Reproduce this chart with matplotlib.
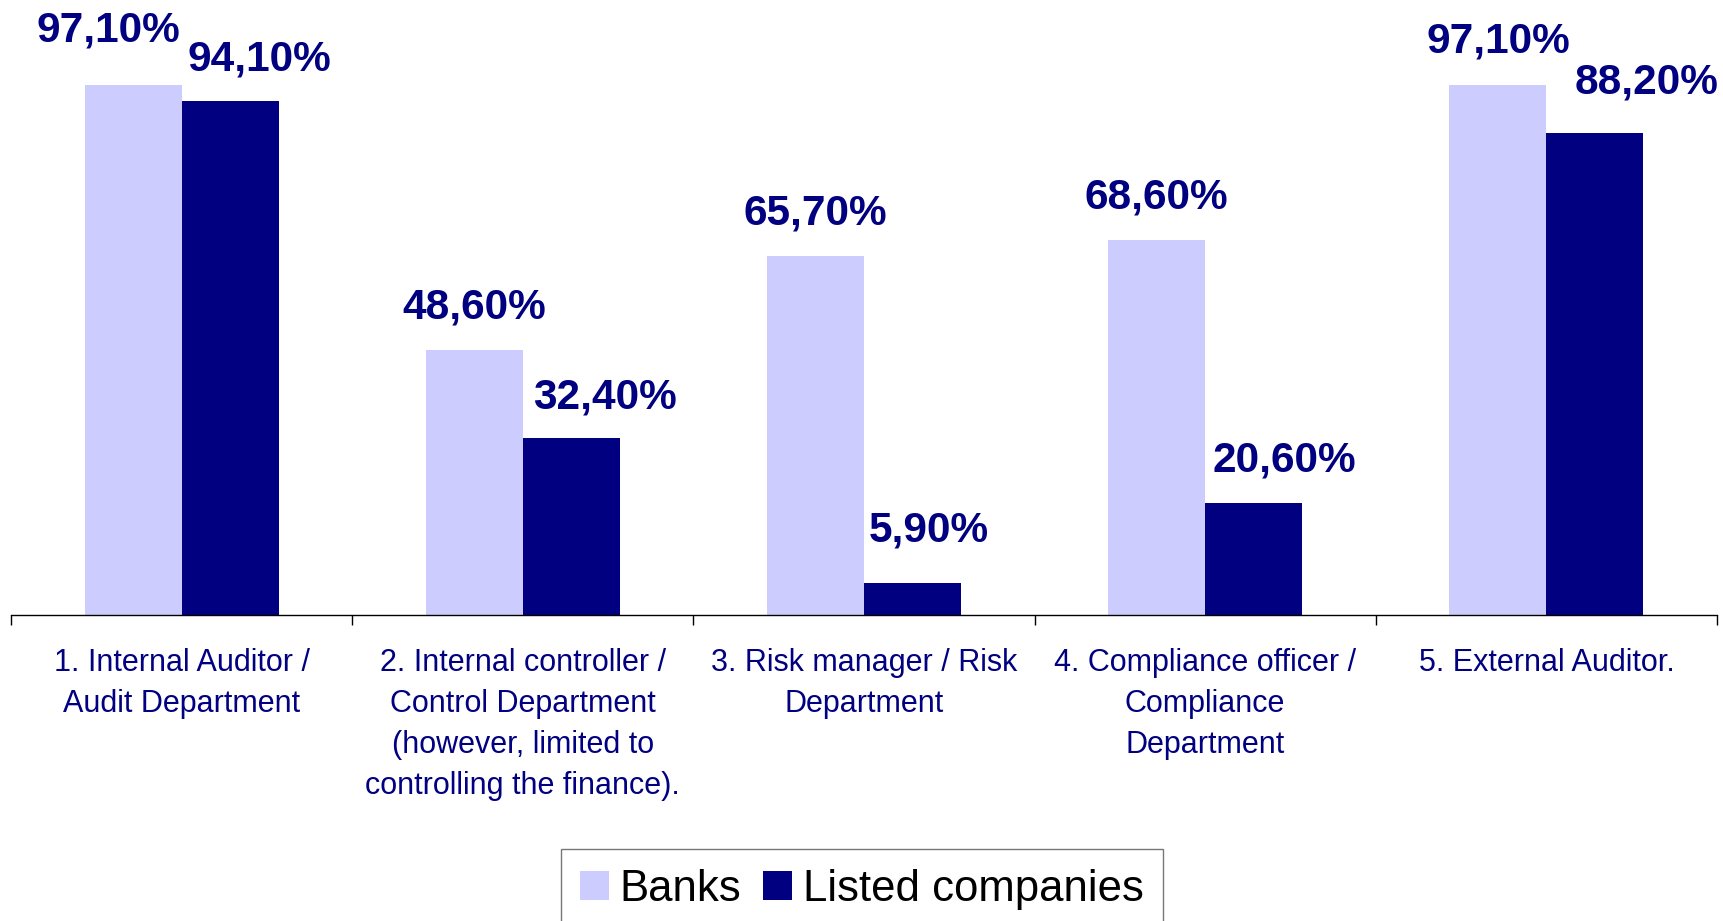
import matplotlib
matplotlib.use("Agg")
import matplotlib.pyplot as plt
from matplotlib.patches import Patch

plt.rcParams['font.family'] = ['Liberation Sans', 'DejaVu Sans']

# datos
categorias = ['1. Internal Auditor /\nAudit Department',
              '2. Internal controller /\nControl Department\n(however, limited to\ncontrolling the finance).',
              '3. Risk manager / Risk\nDepartment',
              '4. Compliance officer /\nCompliance\nDepartment',
              '5. External Auditor.']
bancos = [97.1, 48.6, 65.7, 68.6, 97.1]
cotizadas = [94.1, 32.4, 5.9, 20.6, 88.2]
series = ['Banks', 'Listed companies']

# colores
claro = '#CCCCFF'
oscuro = '#000080'

# pequenos ajustes de la posicion de las etiquetas (pixeles)
ajuste_claro = [(-25, 43), (0, 31), (0, 32), (0, 32), (0, 32)]
ajuste_oscuro = [(29, 30), (34, 30), (16, 41), (31, 31), (52, 40)]

fig = plt.figure(figsize=(17.23, 9.21), dpi=100)
ax = fig.add_axes([0.0064, 0.3322, 0.9901, 0.6525])

x = list(range(len(categorias)))
ancho = 0.284
b1 = ax.bar([i - ancho / 2 for i in x], bancos, ancho, color=claro)
b2 = ax.bar([i + ancho / 2 for i in x], cotizadas, ancho, color=oscuro)

def etiqueta(v):
    return ('%.2f' % v).replace('.', ',') + '%'

for i in x:
    ax.annotate(etiqueta(bancos[i]), (i - ancho / 2, bancos[i]),
                xytext=ajuste_claro[i], textcoords='offset pixels',
                ha='center', va='baseline', fontsize=30.5, fontweight='bold',
                color=oscuro)
    ax.annotate(etiqueta(cotizadas[i]), (i + ancho / 2, cotizadas[i]),
                xytext=ajuste_oscuro[i], textcoords='offset pixels',
                ha='center', va='baseline', fontsize=30.5, fontweight='bold',
                color=oscuro)

ax.set_xlim(-0.5, len(categorias) - 0.5)
ax.set_ylim(0, 110)
ax.set_yticks([])
for lado in ['top', 'right', 'left']:
    ax.spines[lado].set_visible(False)
ax.spines['bottom'].set_color('#000000')
ax.spines['bottom'].set_linewidth(1)

ax.set_xticks(x)
ax.set_xticklabels(categorias, fontsize=22, color=oscuro, linespacing=1.48)
ax.tick_params(axis='x', which='major', length=0, pad=24)
ax.set_xticks([i - 0.5 for i in range(len(categorias) + 1)], minor=True)
ax.tick_params(axis='x', which='minor', length=7.2, width=1, color='#000000')

manejadores = [Patch(facecolor=claro), Patch(facecolor=oscuro)]
ley = fig.legend(manejadores, series, loc='upper center',
                 bbox_to_anchor=(862 / 1723, 1 - 849 / 921), ncol=2,
                 fontsize=31.5, frameon=True, fancybox=False,
                 handlelength=0.65, handleheight=0.65, handletextpad=0.25,
                 columnspacing=0.5, borderpad=0.45, borderaxespad=0)
ley.get_frame().set_edgecolor('#555555')
ley.get_frame().set_linewidth(1)

fig.savefig('out.png', dpi=100)
